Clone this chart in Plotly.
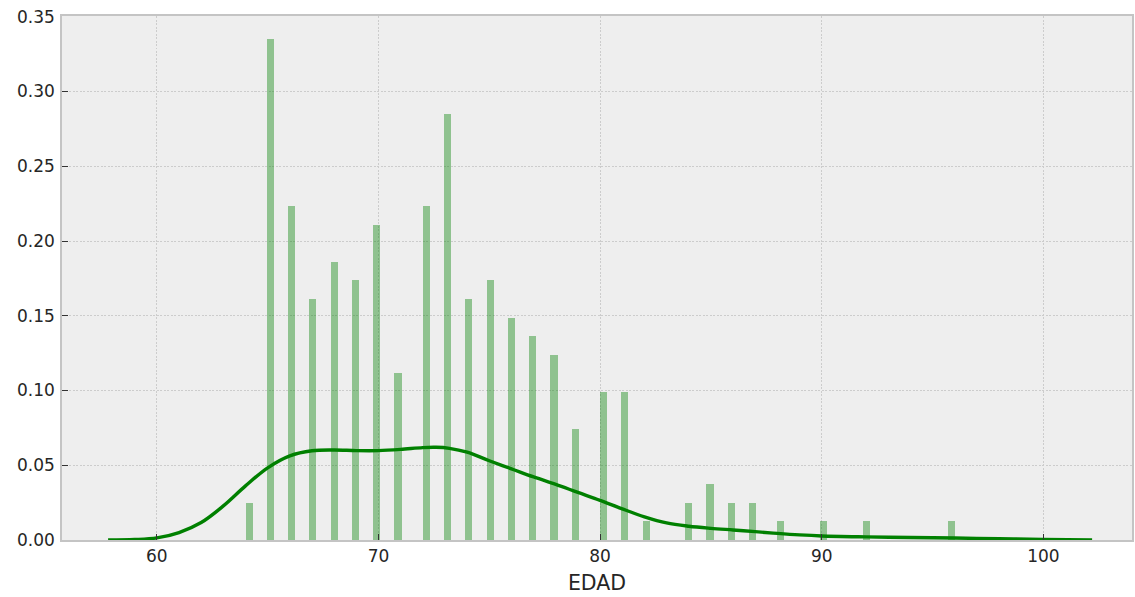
import numpy as np
import plotly.graph_objects as go

# Observed ages and how many people have each age
ages = [64, 65, 66, 67, 68, 69, 70, 71, 72, 73, 74, 75, 76, 77, 78, 79, 80,
        81, 82, 84, 85, 86, 87, 88, 90, 92, 96]
counts = [2, 27, 18, 13, 15, 14, 17, 9, 18, 23, 13, 14, 12, 11, 10, 6, 8,
          8, 1, 2, 3, 2, 2, 1, 1, 1, 1]

# Kernel density estimate of EDAD (x = age, y = density)
kde_x = [57.8, 59.0, 60.0, 61.0, 62.0, 63.0, 64.0, 65.0, 66.0, 67.0, 68.0,
         69.0, 70.0, 71.0, 72.0, 72.6, 73.2, 74.0, 75.0, 76.0, 77.0, 78.0,
         79.0, 80.0, 81.0, 82.0, 83.0, 84.0, 85.0, 86.0, 87.0, 88.0, 89.0,
         90.0, 92.0, 94.0, 96.0, 98.0, 100.0, 102.2]
kde_y = [0.0, 0.0003, 0.0014, 0.0050, 0.0117, 0.0228, 0.0362, 0.0483, 0.0563,
         0.0597, 0.0602, 0.0598, 0.0598, 0.0606, 0.0618, 0.062, 0.0613,
         0.0587, 0.0530, 0.0476, 0.0422, 0.0372, 0.0318, 0.0265, 0.0208,
         0.0155, 0.0114, 0.0092, 0.0078, 0.0067, 0.0056, 0.0044, 0.0034,
         0.0027, 0.0021, 0.0017, 0.0013, 0.0008, 0.0004, 0.0001]

# Normalised histogram with 100 bins over the data range
sample = np.repeat(ages, counts)
dens, edges = np.histogram(sample, bins=100,
                           range=(min(ages), max(ages)), density=True)
centers = (edges[:-1] + edges[1:]) / 2
bin_w = edges[1] - edges[0]

fig = go.Figure()
fig.add_trace(go.Bar(
    x=centers, y=dens, width=bin_w,
    marker=dict(color="rgba(0,128,0,0.4)", line=dict(width=0)),
    showlegend=False,
))
fig.add_trace(go.Scatter(
    x=kde_x, y=kde_y, mode="lines",
    line=dict(color="#008000", width=3.4, shape="spline", smoothing=1.0),
    showlegend=False,
))

axis_common = dict(
    showline=True, mirror=True, linecolor="#c4c4c4", linewidth=1.5,
    showgrid=True, gridcolor="#cccccc", gridwidth=1, griddash="2px,1.5px",
    ticks="inside", ticklen=6, tickwidth=1.4, tickcolor="#333333",
    tickfont=dict(family="DejaVu Sans", size=17, color="#262626"),
    zeroline=False,
)

fig.update_layout(
    width=1135, height=597,
    margin=dict(l=62, r=1, t=16, b=57),
    paper_bgcolor="white", plot_bgcolor="#eeeeee",
    font=dict(family="DejaVu Sans", color="#262626"),
    bargap=0,
    xaxis=dict(range=[55.72, 104.0], tickmode="array",
               tickvals=[60, 70, 80, 90, 100],
               title=dict(text="EDAD", font=dict(size=20.5), standoff=10),
               ticklabelstandoff=0,
               **axis_common),
    yaxis=dict(range=[0, 0.3505], tickmode="array",
               tickvals=[0, 0.05, 0.10, 0.15, 0.20, 0.25, 0.30, 0.35],
               tickformat=".2f", ticklabelstandoff=2,
               **axis_common),
)

fig.write_html("out.html")
